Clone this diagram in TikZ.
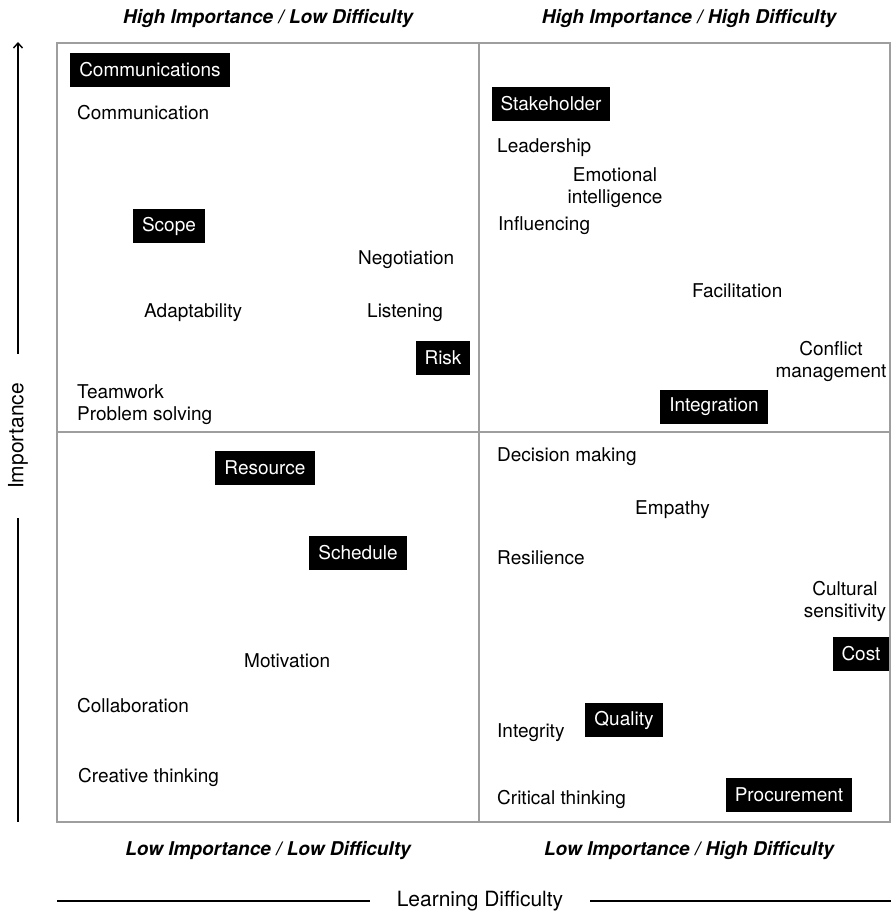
\documentclass[tikz,border=0pt]{standalone}
\usepackage{fontspec}
\setmainfont{TeX Gyre Heros}
\usetikzlibrary{positioning,arrows.meta}
\definecolor{framegray}{gray}{0.62}
\newcommand{\skillfont}{\fontsize{19}{22.5}\selectfont}
\tikzset{
  quadtitle/.style={font=\skillfont\bfseries\itshape, yshift=-2pt},
  area/.style={fill=black, text=white, font=\skillfont, inner xsep=9pt, minimum height=34pt, yshift=-1pt},
  skill/.style={font=\skillfont, anchor=west, inner sep=0pt, align=left, yshift=-1.5pt},
  skillc/.style={font=\skillfont, inner sep=0pt, align=center, yshift=-1.5pt},
  axislabel/.style={font=\fontsize{21}{25}\selectfont},
  axisline/.style={line width=1.4pt}
}
\begin{document}
\begin{tikzpicture}[x=1pt,y=-1pt]
\useasboundingbox (0,0) rectangle (891,912);
% quadrant frame
\draw[framegray, line width=1.8pt] (57,43) rectangle (890,822);
\draw[framegray, line width=1.8pt] (479,43) -- (479,822) (57,432) -- (890,432);

% quadrant titles
\node[quadtitle] (hl) at (268,17) {High Importance / Low Difficulty};
\node[quadtitle] (hh) at (689,17) {High Importance / High Difficulty};
\node[quadtitle] (ll) at (268,849) {Low Importance / Low Difficulty};
\node[quadtitle] (lh) at (689,849) {Low Importance / High Difficulty};

% axes
\node[axislabel, rotate=90, inner xsep=29pt] (imp) at (18,436) {Importance};
\coordinate (imptop) at (18,42);
\coordinate (impbot) at (18,822);
\draw[axisline, -{Straight Barb[length=5pt,width=9pt]}] (imp.east) -- (imptop);
\draw[axisline] (imp.west) -- (impbot);
\node[axislabel, inner xsep=27pt] (diff) at (480,901) {Learning Difficulty};
\coordinate (diffleft) at (57,901);
\coordinate (diffright) at (891,901);
\draw[axisline] (diff.west) -- (diffleft);
\draw[axisline] (diff.east) -- (diffright);

% knowledge areas
\node[area] (comms) at (150,69) {Communications};
\node[area] (scope) at (169,225) {Scope};
\node[area] (risk) at (443,357) {Risk};
\node[area] (stake) at (551,103) {Stakeholder};
\node[area] (integ) at (714,406) {Integration};
\node[area] (resource) at (265,467) {Resource};
\node[area] (sched) at (358,552) {Schedule};
\node[area] (cost) at (861,653) {Cost};
\node[area] (quality) at (624,719) {Quality};
\node[area] (procure) at (789,794) {Procurement};

% skills
\node[skill] (communication) at (77,111) {Communication};
\node[skill] (negotiation) at (358,258) {Negotiation};
\node[skill] (adapt) at (144,311) {Adaptability};
\node[skill] (listening) at (367,311) {Listening};
\node[skill] (teamwork) at (77,403) {Teamwork\\Problem solving};
\node[skill] (leadership) at (497,146) {Leadership};
\node[skillc] (emotional) at (615,186) {Emotional\\intelligence};
\node[skill] (influencing) at (498,224) {Influencing};
\node[skill] (facilitation) at (692,289) {Facilitation};
\node[skillc] (conflict) at (831,360) {Conflict\\management};
\node[skill] (decision) at (497,455) {Decision making};
\node[skill] (empathy) at (635,508) {Empathy};
\node[skill] (resilience) at (497,556) {Resilience};
\node[skillc] (cultural) at (845,600) {Cultural\\sensitivity};
\node[skill] (integrity) at (497,731) {Integrity};
\node[skill] (critical) at (497,798) {Critical thinking};
\node[skill] (motivation) at (244,659) {Motivation};
\node[skill] (collab) at (77,704) {Collaboration};
\node[skill] (creative) at (78,776) {Creative thinking};
\end{tikzpicture}
\end{document}
